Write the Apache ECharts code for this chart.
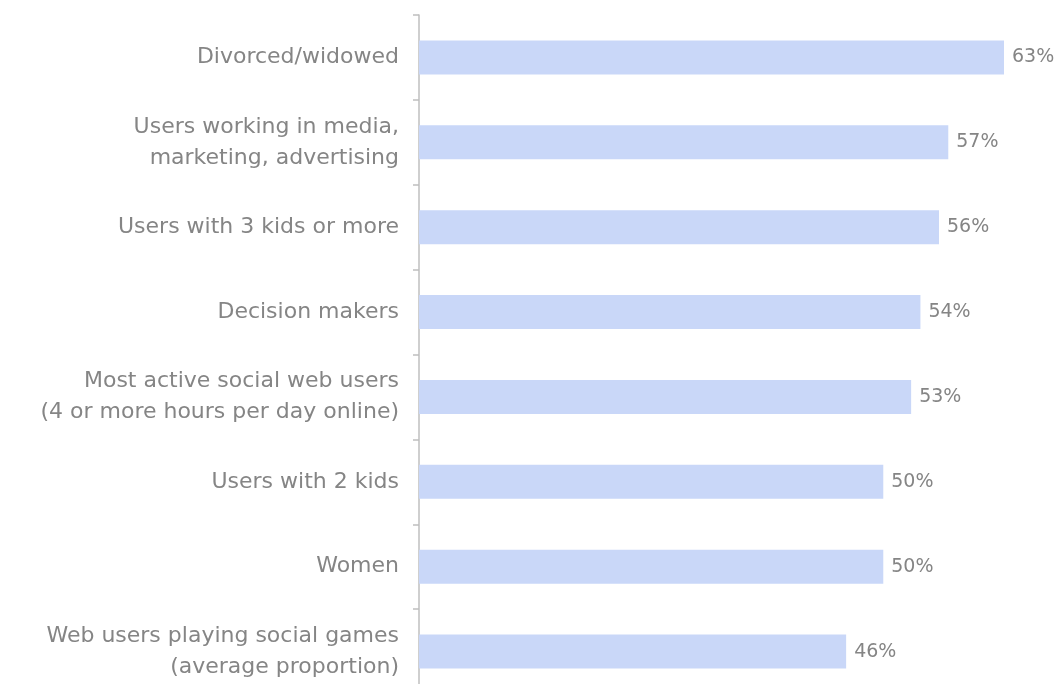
<!DOCTYPE html>
<html>
<head>
<meta charset="utf-8">
<script src="https://cdn.jsdelivr.net/npm/echarts@6/dist/echarts.min.js"></script>
<style>
  html, body { margin: 0; padding: 0; background: #fff; }
  #chart { width: 1060px; height: 684px; }
</style>
</head>
<body>
<div id="chart"></div>
<script>
  // categories, top to bottom
  const categories = [
    "Divorced/widowed",
    "Users working in media,\nmarketing, advertising",
    "Users with 3 kids or more",
    "Decision makers",
    "Most active social web users\n(4 or more hours per day online)",
    "Users with 2 kids",
    "Women",
    "Web users playing social games\n(average proportion)"
  ];
  const values = [63, 57, 56, 54, 53, 50, 50, 46];

  const chart = echarts.init(document.getElementById("chart"));

  const option = {
    animation: false,
    grid: {
      left: 419,
      top: 15,
      width: 650,
      height: 679,
      containLabel: false,
      outerBoundsMode: "none"
    },
    xAxis: {
      type: "value",
      min: 0,
      max: 70,
      show: false
    },
    yAxis: {
      type: "category",
      inverse: true,
      data: categories,
      axisLine: {
        lineStyle: { color: "#bfbfbf", width: 1.5 }
      },
      axisTick: {
        show: true,
        length: 6,
        lineStyle: { color: "#bfbfbf", width: 1.5 }
      },
      axisLabel: {
        margin: 20,
        color: "#858585",
        fontSize: 22,
        fontFamily: "DejaVu Sans",
        lineHeight: 31,
        align: "right"
      }
    },
    series: [
      {
        type: "bar",
        data: values,
        barWidth: 34,
        itemStyle: { color: "#c9d7f8" },
        label: {
          show: true,
          position: "right",
          distance: 8,
          formatter: "{c}%",
          color: "#858585",
          fontSize: 19,
          fontFamily: "DejaVu Sans"
        }
      }
    ]
  };

  chart.setOption(option);
</script>
</body>
</html>
